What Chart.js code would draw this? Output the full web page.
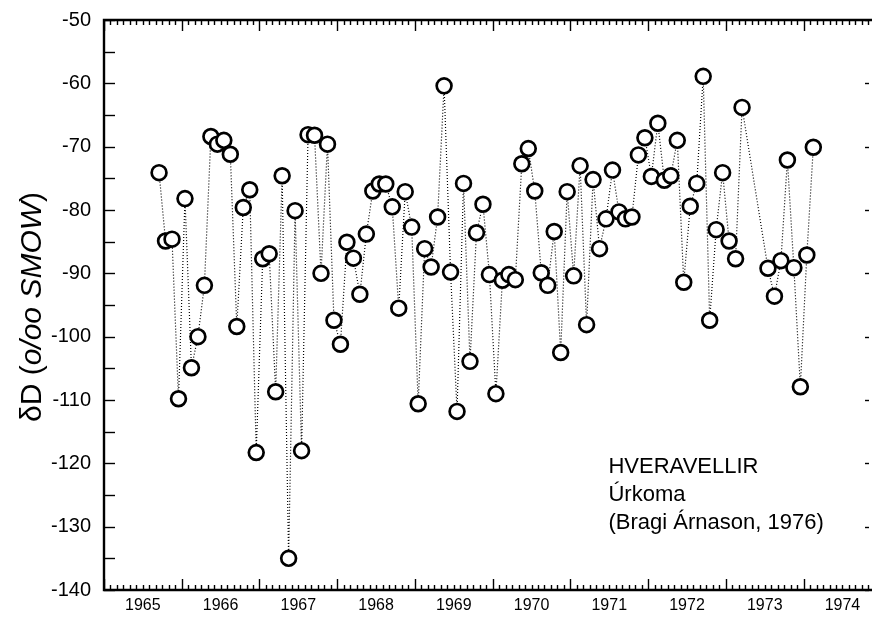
<!DOCTYPE html>
<html>
<head>
<meta charset="utf-8">
<script src="https://cdn.jsdelivr.net/npm/chart.js@4.4.0/dist/chart.umd.min.js"></script>
<style>
html,body{margin:0;padding:0;background:#fff;}
#wrap{width:872px;height:617px;}
</style>
</head>
<body>
<div id="wrap"><canvas id="c" width="872" height="617"></canvas></div>
<script>
// ---- data (monthly samples) ----
const sampleMonths = [
  '1965-09','1965-10','1965-11','1965-12',
  '1966-01','1966-02','1966-03','1966-04','1966-05','1966-06','1966-07','1966-08','1966-09','1966-10','1966-11','1966-12',
  '1967-01','1967-02','1967-03','1967-04','1967-05','1967-06','1967-07','1967-08','1967-09','1967-10','1967-11','1967-12',
  '1968-01','1968-02','1968-03','1968-04','1968-05','1968-06','1968-07','1968-08','1968-09','1968-10','1968-11','1968-12',
  '1969-01','1969-02','1969-03','1969-04','1969-05','1969-06','1969-07','1969-08','1969-09','1969-10','1969-11','1969-12',
  '1970-01','1970-02','1970-03','1970-04','1970-05','1970-06','1970-07','1970-08','1970-09','1970-10','1970-11','1970-12',
  '1971-01','1971-02','1971-03','1971-04','1971-05','1971-06','1971-07','1971-08','1971-09','1971-10','1971-11','1971-12',
  '1972-01','1972-02','1972-03','1972-04','1972-05','1972-06','1972-07','1972-08','1972-09','1972-10','1972-11','1972-12',
  '1973-01','1973-02','1973-03','1973-07','1973-08','1973-09','1973-10','1973-11','1973-12',
  '1974-01','1974-02'
];
const deltaD = [
  -74.1,-84.9,-84.6,-109.8,
  -78.2,-104.9,-100.0,-91.9,-68.4,-69.6,-69.0,-71.2,-98.4,-79.6,-76.8,-118.3,
  -87.7,-86.9,-108.7,-74.6,-135.0,-80.1,-118.0,-68.1,-68.2,-90.0,-69.6,-97.4,
  -101.2,-85.1,-87.6,-93.3,-83.8,-77.0,-75.9,-75.9,-79.5,-95.5,-77.1,-82.7,
  -110.6,-86.1,-89.0,-81.1,-60.4,-89.8,-111.8,-75.8,-103.9,-83.6,-79.1,-90.2,
  -109.0,-91.1,-90.2,-91.0,-72.7,-70.3,-77.0,-89.9,-91.9,-83.4,-102.5,-77.1,
  -90.4,-73.0,-98.1,-75.2,-86.1,-81.4,-73.7,-80.3,-81.4,-81.1,-71.3,-68.6,
  -74.7,-66.3,-75.3,-74.6,-69.0,-91.4,-79.4,-75.8,-58.9,-97.4,-83.1,-74.1,
  -84.9,-87.7,-63.8,-89.2,-93.6,-88.0,-72.1,-89.1,-107.9,
  -87.1,-70.1
];
const yearTickLabels = ['1965','1966','1967','1968','1969','1970','1971','1972','1973','1974'];
const yTickLabels = [-140,-130,-120,-110,-100,-90,-80,-70,-60,-50];
const annotationLines = ['HVERAVELLIR','Úrkoma','(Bragi Árnason, 1976)'];

const FONT = '"Liberation Sans", Arial, Helvetica, sans-serif';

function toDecimalYear(s){
  const p = s.split('-');
  return Number(p[0]) + (Number(p[1]) - 0.5) / 12;
}
const points = sampleMonths.map((m, i) => ({x: toDecimalYear(m), y: deltaD[i]}));

const framePlugin = {
  id: 'frame',
  afterDraw(chart){
    const ctx = chart.ctx;
    const a = chart.chartArea;
    const xs = chart.scales.x, ys = chart.scales.y;
    ctx.save();
    ctx.strokeStyle = '#000';
    ctx.lineWidth = 1.4;
    const startYear = Number(yearTickLabels[0]);
    for (let k = 0; ; k++){
      const v = startYear + k / 12;
      if (v > xs.max + 1e-9) break;
      const px = Math.round(xs.getPixelForValue(v)) + 0.5;
      const len = (k % 12 === 0) ? 11 : 5;
      ctx.beginPath();
      ctx.moveTo(px, a.bottom); ctx.lineTo(px, a.bottom - len);
      ctx.moveTo(px, a.top); ctx.lineTo(px, a.top + len);
      ctx.stroke();
    }
    for (let v = ys.min; v <= ys.max; v += 5){
      const py = Math.round(ys.getPixelForValue(v)) + 0.5;
      ctx.beginPath();
      ctx.moveTo(a.left, py); ctx.lineTo(a.left + 11, py);
      ctx.stroke();
      if ((v - ys.min) % 10 === 0){
        ctx.beginPath();
        ctx.moveTo(a.right - 7, py); ctx.lineTo(a.right - 3, py);
        ctx.stroke();
      }
    }
    ctx.lineWidth = 2.4;
    ctx.beginPath();
    ctx.moveTo(a.left, a.top); ctx.lineTo(a.right, a.top);
    ctx.moveTo(a.left, a.top - 1.2); ctx.lineTo(a.left, a.bottom + 1.2);
    ctx.moveTo(a.left, a.bottom); ctx.lineTo(a.right, a.bottom);
    ctx.stroke();

    // y axis title with italic part
    ctx.fillStyle = '#000';
    ctx.translate(33, (a.top + a.bottom) / 2 + 2);
    ctx.rotate(-Math.PI / 2);
    ctx.textBaseline = 'middle';
    const parts = [['δD (', ''], ['o/oo SMOW', 'italic '], [')', '']];
    const size = 30;
    let total = 0;
    parts.forEach(p => { ctx.font = p[1] + size + 'px ' + FONT; total += ctx.measureText(p[0]).width; });
    let x0 = -total / 2;
    parts.forEach(p => {
      ctx.font = p[1] + size + 'px ' + FONT;
      ctx.textAlign = 'left';
      ctx.fillText(p[0], x0, 0);
      x0 += ctx.measureText(p[0]).width;
    });
    ctx.restore();

    // annotation
    ctx.save();
    ctx.fillStyle = '#000';
    ctx.font = '22px ' + FONT;
    ctx.textAlign = 'left';
    ctx.textBaseline = 'middle';
    const ax = xs.getPixelForValue(1971.49);
    annotationLines.forEach((t, i) => {
      ctx.fillText(t, ax, ys.getPixelForValue(-120.6 - i * 4.4));
    });
    ctx.restore();
  }
};

new Chart(document.getElementById('c'), {
  type: 'scatter',
  data: {
    datasets: [{
      data: points,
      showLine: true,
      borderColor: '#000',
      borderWidth: 1.2,
      borderDash: [1, 2],
      tension: 0,
      fill: false,
      pointRadius: 7.4,
      pointHoverRadius: 7.4,
      pointBorderWidth: 2.7,
      pointBorderColor: '#000',
      pointBackgroundColor: '#fff'
    }]
  },
  options: {
    responsive: false,
    animation: false,
    devicePixelRatio: 1,
    layout: { autoPadding: false, padding: { top: 20, right: 0, left: 0, bottom: 0 } },
    plugins: { legend: { display: false }, tooltip: { enabled: false } },
    scales: {
      x: {
        type: 'linear',
        min: 1965,
        max: 1974.88,
        grid: { display: false, drawTicks: false },
        border: { display: false },
        afterFit(s){ s.height = 27; s.paddingLeft = 0; s.paddingRight = 0; },
        afterBuildTicks(s){ s.ticks = yearTickLabels.map(y => ({ value: Number(y) + 0.5 })); },
        ticks: {
          autoSkip: false, maxRotation: 0, minRotation: 0, padding: 6, color: '#000',
          font: { family: FONT, size: 16 },
          callback: (v) => yearTickLabels[Math.floor(v) - Number(yearTickLabels[0])]
        }
      },
      y: {
        type: 'linear',
        min: -140,
        max: -50,
        grid: { display: false, drawTicks: false },
        border: { display: false },
        afterFit(s){ s.width = 104; s.paddingTop = 0; s.paddingBottom = 0; },
        afterBuildTicks(s){ s.ticks = yTickLabels.map(v => ({ value: v })); },
        ticks: {
          padding: 13, color: '#000',
          font: { family: FONT, size: 20 },
          callback: (v) => String(v)
        }
      }
    }
  },
  plugins: [framePlugin]
});
</script>
</body>
</html>
